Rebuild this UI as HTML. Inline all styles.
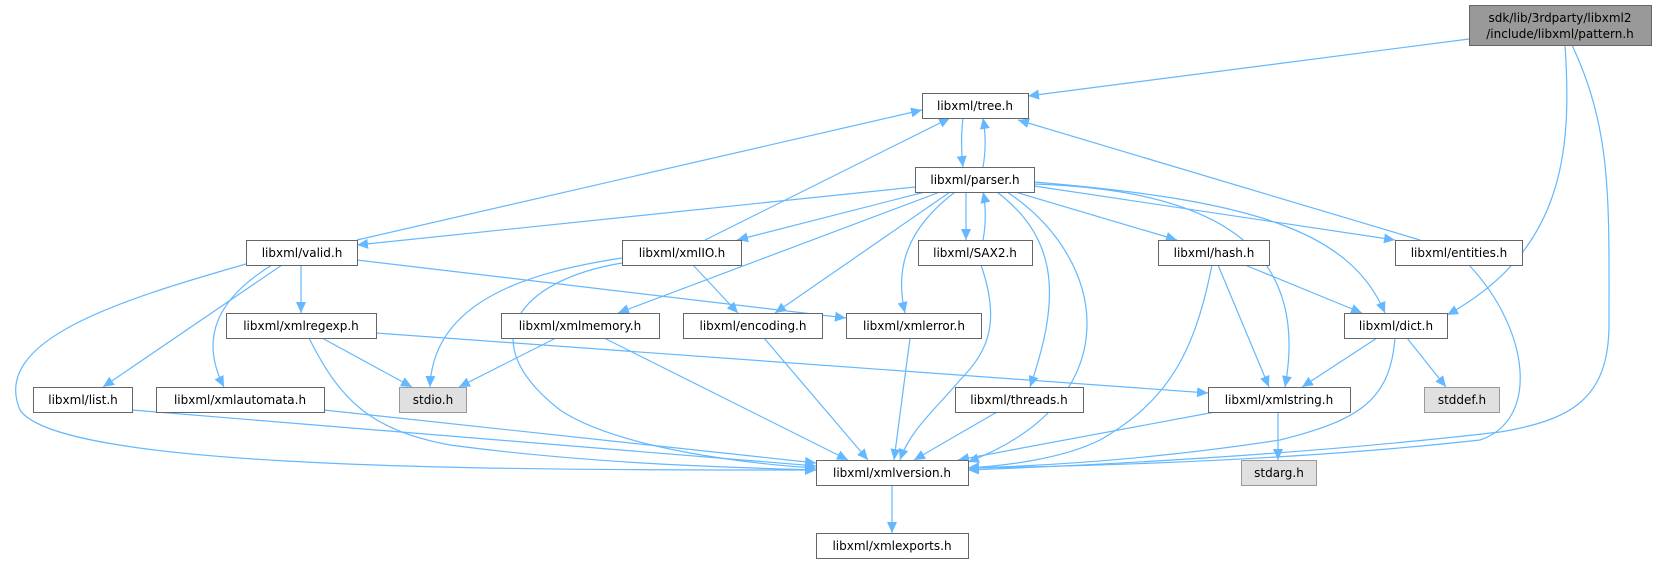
<!DOCTYPE html>
<html><head><meta charset="utf-8"><style>
html,body{margin:0;padding:0;background:#fff;}
svg{display:block;}
text{font-family:"DejaVu Sans","Liberation Sans",sans-serif;font-size:12px;fill:#000;}
.e{fill:none;stroke:#63b8ff;stroke-width:1.2;marker-end:url(#a);}
.n{fill:#fff;stroke:#666;stroke-width:1;}
.g{fill:#e0e0e0;stroke:#999;stroke-width:1;}
</style></head><body>
<svg width="1656" height="564" viewBox="0 0 1656 564" xmlns="http://www.w3.org/2000/svg">
<defs><marker id="a" markerUnits="userSpaceOnUse" markerWidth="12" markerHeight="10" refX="11" refY="5" orient="auto"><path d="M0,0 L11,5 L0,10 z" fill="#63b8ff"/></marker></defs>
<path class="e" d="M1469,39 L1028,96"/>
<path class="e" d="M1565,45 C1572,150 1565,250 1447,315"/>
<path class="e" d="M1572,45 C1612,130 1609,200 1609,324 C1609,400 1570,420 1500,432 C1300,455 1100,465 968,470"/>
<path class="e" d="M963,118 C961,135 961,150 963,167"/>
<path class="e" d="M983,167 C986,150 986,135 983,118"/>
<path class="e" d="M915,187 L357,245"/>
<path class="e" d="M357,240 L922,110"/>
<path class="e" d="M705,240 L950,118"/>
<path class="e" d="M925,192 L737,240"/>
<path class="e" d="M940,192 L618,313"/>
<path class="e" d="M950,192 L775,313"/>
<path class="e" d="M955,192 C905,230 895,270 905,313"/>
<path class="e" d="M966,192 L966,240"/>
<path class="e" d="M983,240 C986,225 986,205 983,192"/>
<path class="e" d="M997,192 C1060,240 1060,300 1030,387"/>
<path class="e" d="M1007,192 C1110,260 1130,400 968,462"/>
<path class="e" d="M1015,192 L1177,240"/>
<path class="e" d="M1034,186 L1395,240"/>
<path class="e" d="M1034,182 C1250,200 1350,230 1385,313"/>
<path class="e" d="M1034,184 C1220,190 1310,250 1285,387"/>
<path class="e" d="M1420,240 L1018,120"/>
<path class="e" d="M1469,265 C1530,330 1540,420 1480,440 C1300,460 1100,466 968,468"/>
<path class="e" d="M981,265 C1000,320 990,350 960,380 C935,410 910,430 900,460"/>
<path class="e" d="M1245,265 L1362,313"/>
<path class="e" d="M1218,265 L1269,387"/>
<path class="e" d="M1212,265 C1195,350 1170,400 1100,440 C1060,460 1000,466 968,468"/>
<path class="e" d="M1377,338 L1302,387"/>
<path class="e" d="M1407,338 L1446,387"/>
<path class="e" d="M1395,338 C1390,400 1360,420 1280,440 C1150,460 1040,466 968,468"/>
<path class="e" d="M1278,412 L1278,460"/>
<path class="e" d="M1215,412 L958,460"/>
<path class="e" d="M997,412 L914,460"/>
<path class="e" d="M910,338 L894,460"/>
<path class="e" d="M764,338 L868,460"/>
<path class="e" d="M604,338 L848,460"/>
<path class="e" d="M556,338 L459,387"/>
<path class="e" d="M693,265 L738,313"/>
<path class="e" d="M622,258 C530,272 433,300 430,387"/>
<path class="e" d="M622,263 C520,280 470,340 560,410 C620,450 760,465 816,468"/>
<path class="e" d="M357,260 L846,318"/>
<path class="e" d="M301,265 L301,313"/>
<path class="e" d="M282,265 L103,387"/>
<path class="e" d="M272,265 C215,300 200,340 224,387"/>
<path class="e" d="M246,264 C120,300 -10,340 20,410 C60,470 500,470 816,470"/>
<path class="e" d="M322,338 L412,387"/>
<path class="e" d="M309,338 C340,400 370,430 450,445 C600,465 750,468 816,470"/>
<path class="e" d="M376,333 L1208,393"/>
<path class="e" d="M132,410 L816,466"/>
<path class="e" d="M324,410 L816,463"/>
<path class="e" d="M892,485 L892,533"/>

<rect x="1469.5" y="5.5" width="182" height="40" fill="#999" stroke="#666"/>
<text x="1560" y="22" text-anchor="middle">sdk/lib/3rdparty/libxml2</text>
<text x="1560" y="38" text-anchor="middle">/include/libxml/pattern.h</text>

<rect class="n" x="922.5" y="93.5" width="106" height="25"/><text x="975" y="110" text-anchor="middle">libxml/tree.h</text>
<rect class="n" x="915.5" y="167.5" width="119" height="25"/><text x="975" y="184" text-anchor="middle">libxml/parser.h</text>
<rect class="n" x="246.5" y="240.5" width="111" height="25"/><text x="302" y="257" text-anchor="middle">libxml/valid.h</text>
<rect class="n" x="622.5" y="240.5" width="119" height="25"/><text x="682" y="257" text-anchor="middle">libxml/xmlIO.h</text>
<rect class="n" x="918.5" y="240.5" width="114" height="25"/><text x="975" y="257" text-anchor="middle">libxml/SAX2.h</text>
<rect class="n" x="1158.5" y="240.5" width="111" height="25"/><text x="1214" y="257" text-anchor="middle">libxml/hash.h</text>
<rect class="n" x="1395.5" y="240.5" width="127" height="25"/><text x="1459" y="257" text-anchor="middle">libxml/entities.h</text>
<rect class="n" x="226.5" y="313.5" width="150" height="25"/><text x="301" y="330" text-anchor="middle">libxml/xmlregexp.h</text>
<rect class="n" x="501.5" y="313.5" width="158" height="25"/><text x="580" y="330" text-anchor="middle">libxml/xmlmemory.h</text>
<rect class="n" x="683.5" y="313.5" width="139" height="25"/><text x="753" y="330" text-anchor="middle">libxml/encoding.h</text>
<rect class="n" x="846.5" y="313.5" width="135" height="25"/><text x="914" y="330" text-anchor="middle">libxml/xmlerror.h</text>
<rect class="n" x="1344.5" y="313.5" width="103" height="25"/><text x="1396" y="330" text-anchor="middle">libxml/dict.h</text>
<rect class="n" x="33.5" y="387.5" width="99" height="25"/><text x="83" y="404" text-anchor="middle">libxml/list.h</text>
<rect class="n" x="156.5" y="387.5" width="168" height="25"/><text x="240" y="404" text-anchor="middle">libxml/xmlautomata.h</text>
<rect class="g" x="399.5" y="387.5" width="67" height="25"/><text x="433" y="404" text-anchor="middle">stdio.h</text>
<rect class="n" x="955.5" y="387.5" width="128" height="25"/><text x="1019" y="404" text-anchor="middle">libxml/threads.h</text>
<rect class="n" x="1208.5" y="387.5" width="142" height="25"/><text x="1279" y="404" text-anchor="middle">libxml/xmlstring.h</text>
<rect class="g" x="1424.5" y="387.5" width="75" height="25"/><text x="1462" y="404" text-anchor="middle">stddef.h</text>
<rect class="n" x="816.5" y="460.5" width="152" height="25"/><text x="892" y="477" text-anchor="middle">libxml/xmlversion.h</text>
<rect class="g" x="1241.5" y="460.5" width="75" height="25"/><text x="1279" y="477" text-anchor="middle">stdarg.h</text>
<rect class="n" x="816.5" y="533.5" width="152" height="25"/><text x="892" y="550" text-anchor="middle">libxml/xmlexports.h</text>
</svg>
</body></html>
